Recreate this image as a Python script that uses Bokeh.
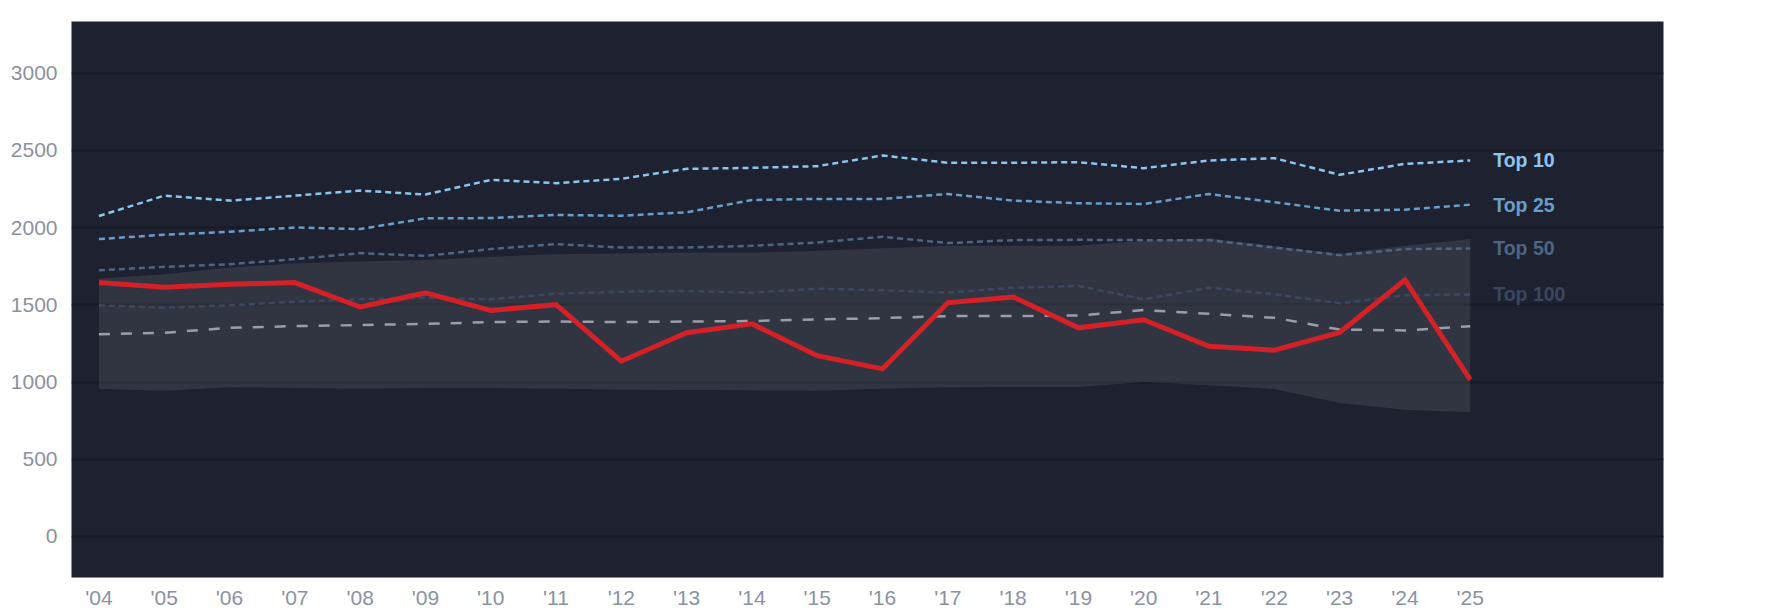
from bokeh.plotting import figure
from bokeh.models import Range1d, FixedTicker
from bokeh.core.properties import value
from bokeh.embed import file_html
from bokeh.resources import INLINE

years = list(range(2004, 2026))
year_labels = ["'04", "'05", "'06", "'07", "'08", "'09", "'10", "'11", "'12", "'13", "'14",
               "'15", "'16", "'17", "'18", "'19", "'20", "'21", "'22", "'23", "'24", "'25"]

team = [1644, 1614, 1633, 1644, 1486, 1577, 1464, 1501, 1135, 1319, 1377,
        1171, 1085, 1514, 1551, 1351, 1403, 1232, 1206, 1321, 1661, 1015]
top10 = [2075, 2207, 2175, 2207, 2240, 2214, 2309, 2288, 2316, 2381, 2387,
         2398, 2467, 2420, 2420, 2424, 2385, 2435, 2450, 2342, 2413, 2435]
top25 = [1926, 1954, 1973, 2001, 1991, 2060, 2062, 2082, 2077, 2099, 2179,
         2186, 2186, 2218, 2175, 2158, 2153, 2218, 2164, 2110, 2116, 2149]
top50 = [1724, 1746, 1763, 1796, 1835, 1817, 1861, 1893, 1871, 1871, 1882,
         1904, 1941, 1900, 1919, 1921, 1919, 1919, 1871, 1822, 1861, 1865]
top100 = [1497, 1481, 1497, 1520, 1536, 1546, 1536, 1572, 1585, 1590, 1579,
          1605, 1594, 1579, 1611, 1622, 1536, 1611, 1568, 1510, 1562, 1568]
median = [1310, 1319, 1351, 1362, 1369, 1377, 1388, 1392, 1388, 1392, 1395,
          1405, 1414, 1427, 1427, 1431, 1466, 1442, 1416, 1340, 1334, 1362]
band_hi = [1670, 1698, 1741, 1770, 1780, 1791, 1811, 1828, 1832, 1839, 1839,
           1850, 1867, 1882, 1882, 1882, 1915, 1932, 1880, 1830, 1882, 1926]
band_lo = [955, 944, 966, 961, 957, 961, 961, 957, 950, 948, 946,
           944, 957, 966, 968, 968, 1000, 979, 955, 864, 820, 805]

tier_names = ["Top 10", "Top 25", "Top 50", "Top 100"]
tier_colors = ["#8ec5ee", "#6a9ec9", "#4e6583", "#3b4760"]
y_ticks = [0, 500, 1000, 1500, 2000, 2500, 3000]

p = figure(frame_width=1592, frame_height=556,
           x_range=Range1d(2003.58, 2027.96), y_range=Range1d(-266, 3335),
           output_backend="svg", toolbar_location=None,
           min_border_left=71, min_border_top=21, min_border_right=106, min_border_bottom=8)
p.background_fill_color = "#1d2130"
p.border_fill_color = "white"
p.outline_line_color = None

p.xgrid.grid_line_color = None
p.ygrid.grid_line_color = "#161a24"
p.ygrid.grid_line_width = 2
p.yaxis.ticker = FixedTicker(ticks=y_ticks)
p.xaxis.ticker = FixedTicker(ticks=years)
p.xaxis.major_label_overrides = {y: l for y, l in zip(years, year_labels)}

for ax in (p.xaxis, p.yaxis):
    ax.axis_line_color = None
    ax.major_tick_line_color = None
    ax.minor_tick_line_color = None
    ax.major_tick_out = 0
    ax.major_tick_in = 0
    ax.major_label_text_color = "#8a92a2"
    ax.major_label_text_font = "Liberation Sans"
    ax.major_label_text_font_size = "21px"
p.yaxis.major_label_standoff = 14
p.xaxis.major_label_standoff = 8

p.varea(x=years, y1=band_lo, y2=band_hi, fill_color="white", fill_alpha=0.09)

p.line(years, top100, line_color=tier_colors[3], line_width=2.5, line_dash="6 4")
p.line(years, top50, line_color=tier_colors[2], line_width=2.5, line_dash="6 4")
p.line(years, top25, line_color=tier_colors[1], line_width=2.5, line_dash="6 4")
p.line(years, top10, line_color=tier_colors[0], line_width=2.5, line_dash="6 4")
p.line(years, median, line_color="#9a9ea8", line_width=2.5, line_dash="11 11")
p.line(years, team, line_color="#d42027", line_width=5, line_join="miter")

last_vals = [top10[-1], top25[-1], top50[-1], top100[-1]]
p.text(x=[years[-1]] * 4, y=last_vals, text=tier_names, x_offset=23,
       text_color=tier_colors, text_font=value("Liberation Sans"),
       text_font_style="bold", text_font_size="19.5px", text_baseline="middle")

open("out.html", "w").write(file_html(p, INLINE))
